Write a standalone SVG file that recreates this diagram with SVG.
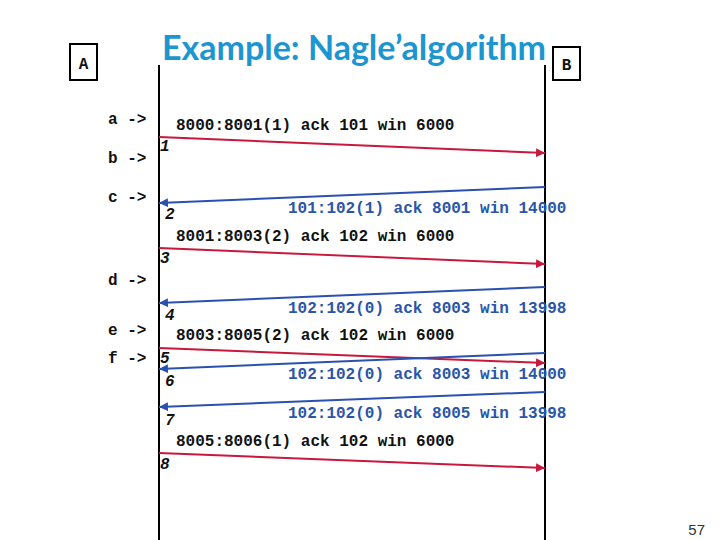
<svg xmlns="http://www.w3.org/2000/svg" width="720" height="540" viewBox="0 0 720 540">
<style>
.mono{font-family:"Liberation Mono","Courier New",monospace;font-size:16px;font-weight:bold}
.blk{fill:#111}
.blu{fill:#2a55a8}
.num{font-family:"Liberation Mono","Courier New",monospace;font-size:16px;font-weight:bold;font-style:italic;fill:#111}
.red{stroke:#c8183c;stroke-width:2;fill:none}
.bl{stroke:#2a50b0;stroke-width:2;fill:none}
.life{stroke:#000;stroke-width:2}
</style>
<defs>
<marker id="ar" viewBox="0 0 10 10" refX="10" refY="5" markerWidth="4.5" markerHeight="4.5" orient="auto"><path d="M0,0L10,5L0,10z" fill="#c8183c"/></marker>
<marker id="ab" viewBox="0 0 10 10" refX="10" refY="5" markerWidth="4.5" markerHeight="4.5" orient="auto"><path d="M0,0L10,5L0,10z" fill="#2a50b0"/></marker>
</defs>
<rect width="720" height="540" fill="#fff"/>
<text x="354" y="60" text-anchor="middle" font-family="Lato, 'Open Sans', sans-serif" font-weight="bold" font-size="34" fill="#1b96d0">Example: Nagle’algorithm</text>
<g id="nodeA"><rect x="70" y="44" width="27" height="36" fill="#fff" stroke="#000" stroke-width="2"/><text x="83.5" y="69" text-anchor="middle" class="mono blk" font-size="18">A</text><line x1="159" y1="65" x2="159" y2="540" class="life"/></g>
<g id="nodeB"><rect x="553" y="47" width="27" height="33" fill="#fff" stroke="#000" stroke-width="2"/><text x="566.5" y="70" text-anchor="middle" class="mono blk" font-size="18">B</text><line x1="545" y1="65" x2="545" y2="540" class="life"/></g>
<g id="leftlabels" class="mono blk">
<text x="108" y="124">a -&gt;</text>
<text x="108" y="163">b -&gt;</text>
<text x="108" y="202">c -&gt;</text>
<text x="108" y="285">d -&gt;</text>
<text x="108" y="335">e -&gt;</text>
<text x="108" y="363">f -&gt;</text>
</g>
<g id="connectors">
<line x1="159" y1="137" x2="545" y2="153" class="red" marker-end="url(#ar)"/>
<line x1="545" y1="187" x2="159" y2="203" class="bl" marker-end="url(#ab)"/>
<line x1="159" y1="248" x2="545" y2="264" class="red" marker-end="url(#ar)"/>
<line x1="545" y1="287" x2="159" y2="303" class="bl" marker-end="url(#ab)"/>
<line x1="159" y1="348" x2="545" y2="363" class="red" marker-end="url(#ar)"/>
<line x1="545" y1="353" x2="159" y2="369" class="bl" marker-end="url(#ab)"/>
<line x1="545" y1="392" x2="159" y2="407" class="bl" marker-end="url(#ab)"/>
<line x1="159" y1="453" x2="545" y2="468" class="red" marker-end="url(#ar)"/>
</g>
<g id="msglabels" class="mono">
<text x="176" y="130" class="blk">8000:8001(1) ack 101 win 6000</text>
<text x="288" y="213" class="blu">101:102(1) ack 8001 win 14000</text>
<text x="176" y="241" class="blk">8001:8003(2) ack 102 win 6000</text>
<text x="288" y="313" class="blu">102:102(0) ack 8003 win 13998</text>
<text x="176" y="340" class="blk">8003:8005(2) ack 102 win 6000</text>
<text x="288" y="379" class="blu">102:102(0) ack 8003 win 14000</text>
<text x="288" y="418" class="blu">102:102(0) ack 8005 win 13998</text>
<text x="176" y="446" class="blk">8005:8006(1) ack 102 win 6000</text>
</g>
<g id="nums">
<text x="160" y="151" class="num">1</text>
<text x="165" y="219" class="num">2</text>
<text x="160" y="263" class="num">3</text>
<text x="165" y="320" class="num">4</text>
<text x="160" y="363" class="num">5</text>
<text x="165" y="386" class="num">6</text>
<text x="165" y="425" class="num">7</text>
<text x="160" y="469" class="num">8</text>
</g>
<text x="705" y="535" text-anchor="end" font-family="Liberation Sans, Arial, sans-serif" font-size="15" fill="#333">57</text>
</svg>
